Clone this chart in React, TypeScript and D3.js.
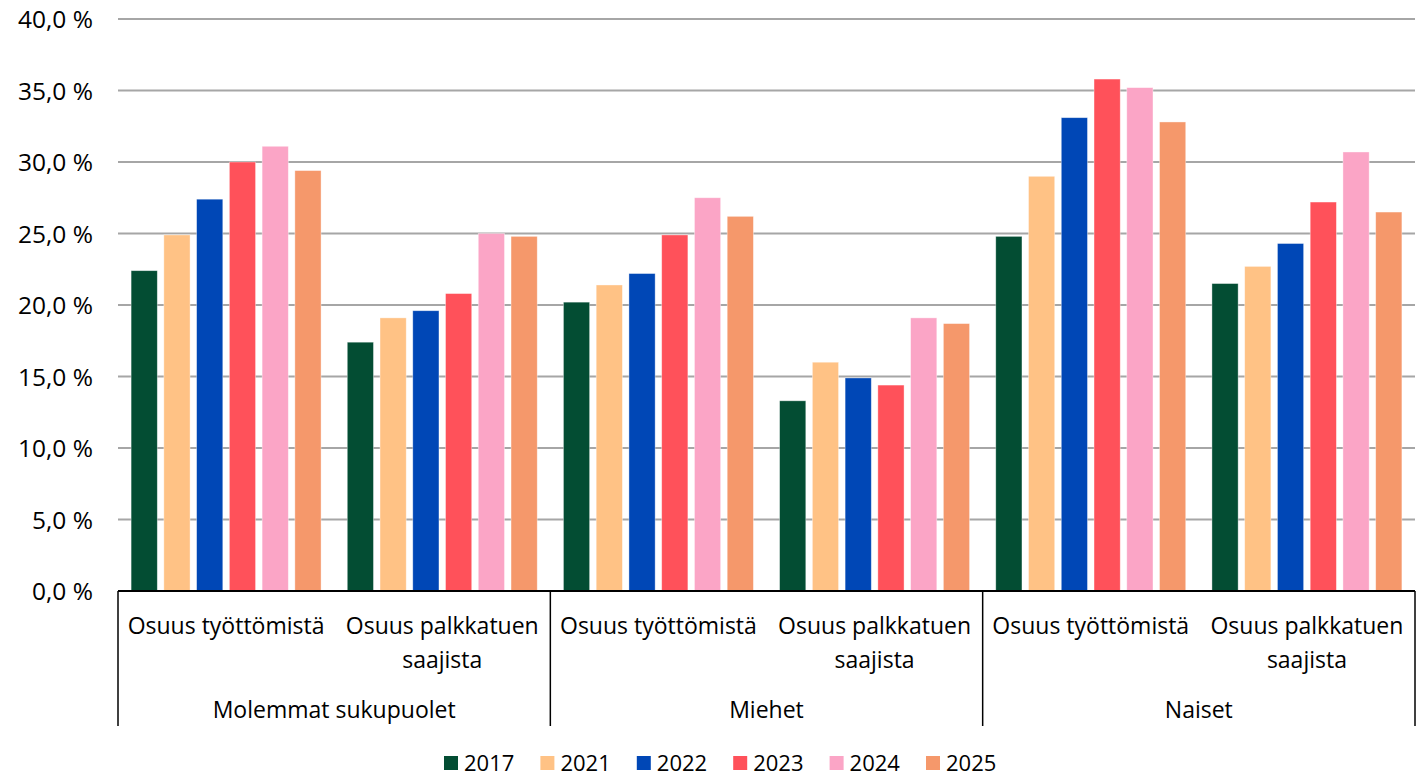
import React from "react";
import * as d3 from "d3";

const years = ["2017", "2021", "2022", "2023", "2024", "2025"];
const colors = ["#034d33", "#ffc285", "#0047b6", "#ff515a", "#fba5c6", "#f5986b"];
const groups = ["Molemmat sukupuolet", "Miehet", "Naiset"];
const subLabels = [["Osuus työttömistä"], ["Osuus palkkatuen", "saajista"]];
const yTicks = [0, 5, 10, 15, 20, 25, 30, 35, 40];

// values[group][sub][year]
const molemmatTyottomista = [22.4, 24.9, 27.4, 30.0, 31.1, 29.4];
const molemmatPalkkatuen = [17.4, 19.1, 19.6, 20.8, 25.0, 24.8];
const miehetTyottomista = [20.2, 21.4, 22.2, 24.9, 27.5, 26.2];
const miehetPalkkatuen = [13.3, 16.0, 14.9, 14.4, 19.1, 18.7];
const naisetTyottomista = [24.8, 29.0, 33.1, 35.8, 35.2, 32.8];
const naisetPalkkatuen = [21.5, 22.7, 24.3, 27.2, 30.7, 26.5];

const data = [
  [molemmatTyottomista, molemmatPalkkatuen],
  [miehetTyottomista, miehetPalkkatuen],
  [naisetTyottomista, naisetPalkkatuen],
];

const W = 1427;
const H = 776;
const left = 118;
const right = 1415;
const top = 19;
const bottom = 591;
const font = "'Open Sans', sans-serif";

export default function App() {
  const y = d3.scaleLinear().domain([0, 40]).range([bottom, top]);
  const gx = d3.scaleBand<number>().domain([0, 1, 2]).range([left, right]).padding(0);
  const sx = d3.scaleBand<number>().domain([0, 1]).range([0, gx.bandwidth()]).padding(0);
  const bx = d3
    .scaleBand<number>()
    .domain(d3.range(years.length))
    .range([0, sx.bandwidth()])
    .paddingInner(0.2)
    .paddingOuter(0.4);

  const legendX = d3.scalePoint<number>().domain(d3.range(years.length)).range([444, 926]);

  return (
    <div style={{ position: "fixed", left: 0, top: 0 }}>
      <svg width={W} height={H} style={{ display: "block", background: "#fff" }}>
        {yTicks.map((t) => (
          <g key={t}>
            {t > 0 && (
              <line x1={left} x2={right} y1={y(t)} y2={y(t)} stroke="#a6a6a6" strokeWidth={2} />
            )}
            <text
              x={93}
              y={y(t) + 9}
              textAnchor="end"
              fontFamily={font}
              fontSize={24.5}
              fill="#000"
            >
              {d3.format(".1f")(t).replace(".", ",") + " %"}
            </text>
          </g>
        ))}
        {data.map((g, gi) =>
          g.map((vals, si) =>
            vals.map((v, yi) => {
              const x0 = (gx(gi) as number) + (sx(si) as number) + (bx(yi) as number);
              return (
                <rect
                  key={`${gi}-${si}-${yi}`}
                  x={x0}
                  y={y(v)}
                  width={bx.bandwidth()}
                  height={bottom - y(v)}
                  fill={colors[yi]}
                  stroke="#fff"
                  strokeOpacity={0.5}
                  strokeWidth={0.75}
                />
              );
            })
          )
        )}
        <line x1={left} x2={right} y1={bottom} y2={bottom} stroke="#000" strokeWidth={2} />
        {[0, 1, 2, 3].map((i) => {
          const x = i < 3 ? (gx(i) as number) : right;
          return <line key={i} x1={x} x2={x} y1={bottom} y2={726} stroke="#000" strokeWidth={1.5} />;
        })}
        {groups.map((gname, gi) => (
          <g key={gname}>
            {subLabels.map((lines, si) => {
              const cx = (gx(gi) as number) + (sx(si) as number) + sx.bandwidth() / 2;
              return lines.map((ln, li) => (
                <text
                  key={`${si}-${li}`}
                  x={cx}
                  y={634 + li * 34}
                  textAnchor="middle"
                  fontFamily={font}
                  fontSize={23}
                  fill="#000"
                >
                  {ln}
                </text>
              ));
            })}
            <text
              x={(gx(gi) as number) + gx.bandwidth() / 2}
              y={718}
              textAnchor="middle"
              fontFamily={font}
              fontSize={23}
              fill="#000"
            >
              {gname}
            </text>
          </g>
        ))}
        {years.map((yr, i) => (
          <g key={yr} transform={`translate(${legendX(i)},0)`}>
            <rect x={0} y={756} width={14} height={14} fill={colors[i]} />
            <text x={20} y={770.5} fontFamily={font} fontSize={22} fill="#000">
              {yr}
            </text>
          </g>
        ))}
      </svg>
    </div>
  );
}
